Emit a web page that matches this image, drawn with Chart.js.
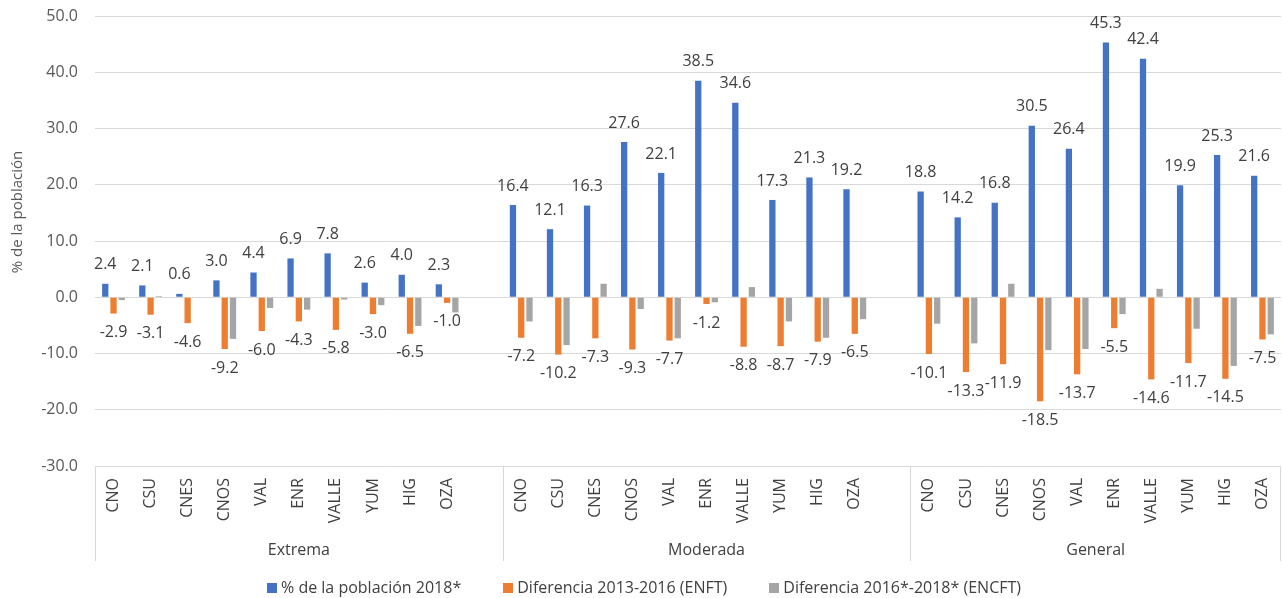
<!DOCTYPE html>
<html lang="es">
<head>
<meta charset="utf-8">
<title>Pobreza por región</title>
<script src="https://cdn.jsdelivr.net/npm/chart.js@4/dist/chart.umd.min.js"></script>
<style>
  html, body { margin: 0; padding: 0; background: #ffffff; }
  #wrap { width: 1282px; height: 598px; }
</style>
</head>
<body>
<div id="wrap"><canvas id="chart" width="1282" height="598"></canvas></div>
<script>
// Regiones de desarrollo y tipo de pobreza
const regiones = ['CNO', 'CSU', 'CNES', 'CNOS', 'VAL', 'ENR', 'VALLE', 'YUM', 'HIG', 'OZA'];
const grupos = ['Extrema', 'Moderada', 'General'];

// % de la población 2018*
const pobExtrema  = [2.4, 2.1, 0.6, 3.0, 4.4, 6.9, 7.8, 2.6, 4.0, 2.3];
const pobModerada = [16.4, 12.1, 16.3, 27.6, 22.1, 38.5, 34.6, 17.3, 21.3, 19.2];
const pobGeneral  = [18.8, 14.2, 16.8, 30.5, 26.4, 45.3, 42.4, 19.9, 25.3, 21.6];

// Diferencia 2013-2016 (ENFT)
const enftExtrema  = [-2.9, -3.1, -4.6, -9.2, -6.0, -4.3, -5.8, -3.0, -6.5, -1.0];
const enftModerada = [-7.2, -10.2, -7.3, -9.3, -7.7, -1.2, -8.8, -8.7, -7.9, -6.5];
const enftGeneral  = [-10.1, -13.3, -11.9, -18.5, -13.7, -5.5, -14.6, -11.7, -14.5, -7.5];

// Diferencia 2016*-2018* (ENCFT)
const encftExtrema  = [-0.5, 0.2, -0.1, -7.4, -1.9, -2.2, -0.4, -1.4, -5.1, -2.7];
const encftModerada = [-4.3, -8.5, 2.4, -2.1, -7.3, -0.9, 1.8, -4.3, -7.2, -3.9];
const encftGeneral  = [-4.7, -8.2, 2.4, -9.4, -9.2, -3.0, 1.5, -5.6, -12.2, -6.6];

// Eje de valores
const yMin = -30, yMax = 50, yStep = 10;

const serieNombres = ['% de la población 2018*', 'Diferencia 2013-2016 (ENFT)', 'Diferencia 2016*-2018* (ENCFT)'];
const serieColores = ['#4472C4', '#ED7D31', '#A5A5A5'];

// Categorías planas: cada grupo con sus regiones y un hueco de separación (salvo el último)
const labels = [];
const grupoDe = [];
function aplanar(listas) {
  const out = [];
  listas.forEach((lista, g) => {
    lista.forEach(v => out.push(v));
    if (g < listas.length - 1) out.push(null);
  });
  return out;
}
grupos.forEach((g, gi) => {
  regiones.forEach(r => { labels.push(r); grupoDe.push(gi); });
  if (gi < grupos.length - 1) { labels.push(''); grupoDe.push(gi); }
});

const datos = [
  aplanar([pobExtrema, pobModerada, pobGeneral]),
  aplanar([enftExtrema, enftModerada, enftGeneral]),
  aplanar([encftExtrema, encftModerada, encftGeneral])
];

const FONT = '"Open Sans", Lato, sans-serif';
const TEXT_DARK = '#404040';
const TEXT_AXIS = '#595959';
const LINE = '#d9d9d9';

// Etiquetas de valor sobre/bajo las barras de las dos primeras series
const etiquetasValor = {
  id: 'etiquetasValor',
  afterDatasetsDraw(chart) {
    const ctx = chart.ctx;
    ctx.save();
    ctx.font = '16px ' + FONT;
    ctx.fillStyle = TEXT_DARK;
    ctx.textAlign = 'center';
    ctx.textBaseline = 'middle';
    [0, 1].forEach(di => {
      const meta = chart.getDatasetMeta(di);
      meta.data.forEach((el, i) => {
        const v = chart.data.datasets[di].data[i];
        if (v === null || v === undefined) return;
        const y = v >= 0 ? el.y - 19 : el.y + 19;
        ctx.fillText(v.toFixed(1), el.x, y);
      });
    });
    ctx.restore();
  }
};

// Eje de categorías en dos niveles, título del eje Y y leyenda
const ejeCategorias = {
  id: 'ejeCategorias',
  afterDraw(chart) {
    const ctx = chart.ctx;
    const xs = chart.scales.x;
    const area = chart.chartArea;
    const paso = xs.getPixelForValue(1) - xs.getPixelForValue(0);
    const bordeIzq = i => xs.getPixelForValue(i) - paso / 2;
    const fondo = 561;

    ctx.save();
    // Separadores de grupo
    ctx.strokeStyle = LINE;
    ctx.lineWidth = 1;
    const limites = [0];
    grupos.forEach((g, gi) => {
      let ultimo = -1;
      grupoDe.forEach((gg, i) => { if (gg === gi) ultimo = i; });
      limites.push(ultimo + 1);
    });
    limites.forEach(i => {
      const x = Math.round(Math.min(bordeIzq(i), area.right - 1)) + 0.5;
      ctx.beginPath();
      ctx.moveTo(x, area.bottom);
      ctx.lineTo(x, fondo);
      ctx.stroke();
    });

    // Nombres de región, verticales
    ctx.fillStyle = TEXT_DARK;
    ctx.font = '16px ' + FONT;
    ctx.textAlign = 'right';
    ctx.textBaseline = 'middle';
    labels.forEach((lab, i) => {
      if (!lab) return;
      const x = xs.getPixelForValue(i);
      ctx.save();
      ctx.translate(x, area.bottom + 12);
      ctx.rotate(-Math.PI / 2);
      ctx.fillText(lab, 0, 0);
      ctx.restore();
    });

    // Nombres de grupo
    ctx.textAlign = 'center';
    grupos.forEach((g, gi) => {
      const x0 = bordeIzq(limites[gi]);
      const x1 = Math.min(bordeIzq(limites[gi + 1]), area.right);
      ctx.fillText(g, (x0 + x1) / 2, 550);
    });

    // Título del eje Y
    ctx.save();
    ctx.fillStyle = TEXT_AXIS;
    ctx.font = '15px ' + FONT;
    ctx.translate(18, 212);
    ctx.rotate(-Math.PI / 2);
    ctx.textAlign = 'center';
    ctx.textBaseline = 'middle';
    ctx.fillText('% de la población', 0, 0);
    ctx.restore();

    // Leyenda
    ctx.font = '16px ' + FONT;
    ctx.textBaseline = 'middle';
    ctx.textAlign = 'left';
    const caja = 10, sepCaja = 4, sepItem = 42;
    const anchos = serieNombres.map(t => ctx.measureText(t).width);
    const total = anchos.reduce((a, w) => a + caja + sepCaja + w, 0) + sepItem * (serieNombres.length - 1);
    let x = 644 - total / 2;
    const yLey = 588;
    serieNombres.forEach((t, i) => {
      ctx.fillStyle = serieColores[i];
      ctx.fillRect(Math.round(x), yLey - 5, caja, caja);
      ctx.fillStyle = TEXT_DARK;
      ctx.fillText(t, x + caja + sepCaja, yLey);
      x += caja + sepCaja + anchos[i] + sepItem;
    });
    ctx.restore();
  }
};

new Chart(document.getElementById('chart'), {
  type: 'bar',
  data: {
    labels: labels,
    datasets: datos.map((d, i) => ({
      label: serieNombres[i],
      data: d,
      backgroundColor: serieColores[i],
      borderWidth: 0,
      categoryPercentage: 0.67,
      barPercentage: 0.76
    }))
  },
  options: {
    responsive: false,
    animation: false,
    layout: { padding: { top: 16, right: 1, left: 0, bottom: 0 } },
    plugins: {
      legend: { display: false },
      tooltip: { enabled: false }
    },
    scales: {
      x: {
        grid: { display: false },
        border: { display: false },
        ticks: { display: false },
        afterFit(scale) { scale.height = 132; }
      },
      y: {
        min: yMin,
        max: yMax,
        ticks: {
          stepSize: yStep,
          padding: 0,
          color: TEXT_AXIS,
          font: { family: FONT, size: 16 },
          callback: v => v.toFixed(1)
        },
        grid: { color: LINE, lineWidth: 1, drawTicks: true, tickLength: 17, tickColor: 'rgba(0,0,0,0)' },
        border: { display: false },
        afterFit(scale) { scale.width = 95; }
      }
    }
  },
  plugins: [etiquetasValor, ejeCategorias]
});
</script>
</body>
</html>
